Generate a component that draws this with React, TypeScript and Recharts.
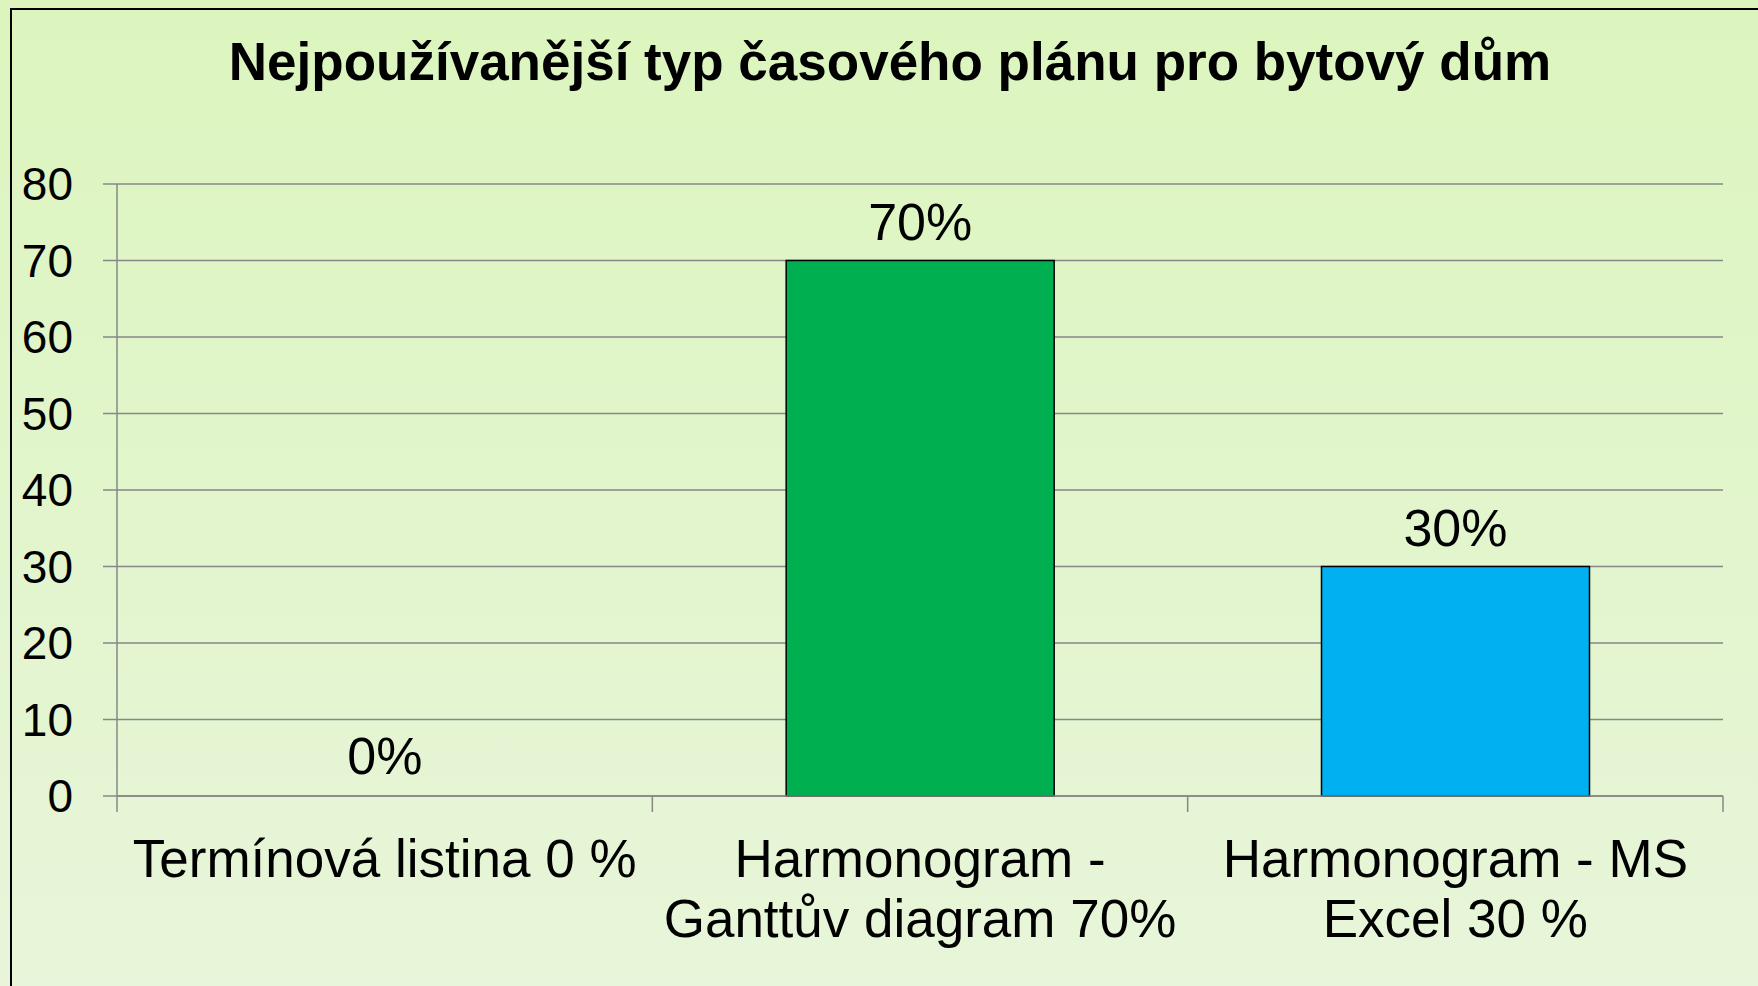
import React from "react";
import { BarChart, Bar, XAxis, YAxis, CartesianGrid, LabelList, Cell, Rectangle } from "recharts";

const title = "Nejpoužívanější typ časového plánu pro bytový dům";
const categories = [
  "Termínová listina 0 %",
  "Harmonogram - Ganttův diagram 70%",
  "Harmonogram - MS Excel 30 %",
];
const shares = [0, 70, 30];
const barColors = ["#00B050", "#00B050", "#00B0F0"];
const yTicks = [0, 10, 20, 30, 40, 50, 60, 70, 80];

const data = categories.map((name, i) => ({ name, value: shares[i] }));

const FONT = '"Liberation Sans", Arial, sans-serif';
const GRID = "#878787";
const CAT_SIZE = 53;

// greedy word wrap measured with canvas
function wrapLines(text: string, maxWidth: number, font: string): string[] {
  const ctx = document.createElement("canvas").getContext("2d");
  if (!ctx) return [text];
  ctx.font = font;
  const words = text.split(" ");
  const lines: string[] = [];
  let cur = "";
  for (const w of words) {
    const next = cur ? cur + " " + w : w;
    if (cur && ctx.measureText(next).width > maxWidth) {
      lines.push(cur);
      cur = w;
    } else {
      cur = next;
    }
  }
  if (cur) lines.push(cur);
  return lines;
}

function CategoryTick(props: any) {
  const { x, y, payload, index, visibleTicksCount, width } = props;
  const half = payload.offset || width / (2 * visibleTicksCount);
  const axisY = y - 44;
  const lines = wrapLines(String(payload.value), half * 2, `${CAT_SIZE}px ${FONT}`);
  return (
    <g>
      <line x1={x - half} x2={x - half} y1={axisY} y2={axisY + 16} stroke={GRID} strokeWidth={1.5} />
      {index === visibleTicksCount - 1 && (
        <line x1={x + half} x2={x + half} y1={axisY} y2={axisY + 16} stroke={GRID} strokeWidth={1.5} />
      )}
      <text x={x} y={y + 37} textAnchor="middle" fontSize={CAT_SIZE} fontFamily={FONT} fill="#000">
        {lines.map((l, i) => (
          <tspan key={i} x={x} dy={i === 0 ? 0 : 60}>
            {l}
          </tspan>
        ))}
      </text>
    </g>
  );
}

function BarShape(props: any) {
  if (!props.value) return <g />;
  return <Rectangle {...props} />;
}

export default function App() {
  return (
    <div
      style={{
        position: "fixed",
        left: 0,
        top: 0,
        width: 1758,
        height: 986,
        overflow: "hidden",
        background: "linear-gradient(#dcf5be, #e8f5da)",
        fontFamily: FONT,
      }}
    >
      <div
        style={{
          position: "absolute",
          left: 10,
          top: 8,
          width: 1800,
          height: 1100,
          border: "2px solid #000",
          boxSizing: "border-box",
        }}
      />
      <div style={{ position: "absolute", left: 0, top: 0 }}>
        <BarChart
          width={1758}
          height={986}
          data={data}
          margin={{ top: 184, right: 35, bottom: 0, left: 0 }}
          barCategoryGap="25%"
        >
          <text x={890} y={80} textAnchor="middle" fontSize={53} fontWeight="bold" fontFamily={FONT} fill="#000">
            {title}
          </text>
          <CartesianGrid vertical={false} stroke={GRID} strokeWidth={1.5} />
          <XAxis
            dataKey="name"
            height={190}
            tickSize={16}
            tickMargin={28}
            tickLine={false}
            axisLine={{ stroke: GRID, strokeWidth: 1.5 }}
            tick={<CategoryTick />}
            interval={0}
          />
          <YAxis
            width={117}
            domain={[0, 80]}
            ticks={yTicks}
            tickSize={14}
            tickMargin={30}
            tickLine={{ stroke: GRID, strokeWidth: 1.5 }}
            axisLine={{ stroke: GRID, strokeWidth: 1.5 }}
            tick={{ fill: "#000", fontSize: 46, fontFamily: FONT }}
          />
          <Bar
            dataKey="value"
            stroke="#000"
            strokeWidth={1.5}
            minPointSize={1}
            shape={<BarShape />}
            isAnimationActive={false}
          >
            {data.map((d, i) => (
              <Cell key={d.name} fill={barColors[i]} />
            ))}
            <LabelList
              dataKey="value"
              position="top"
              offset={21}
              formatter={(v: any) => `${v}%`}
              style={{ fontSize: 52, fontFamily: FONT, fill: "#000" }}
            />
          </Bar>
        </BarChart>
      </div>
    </div>
  );
}
